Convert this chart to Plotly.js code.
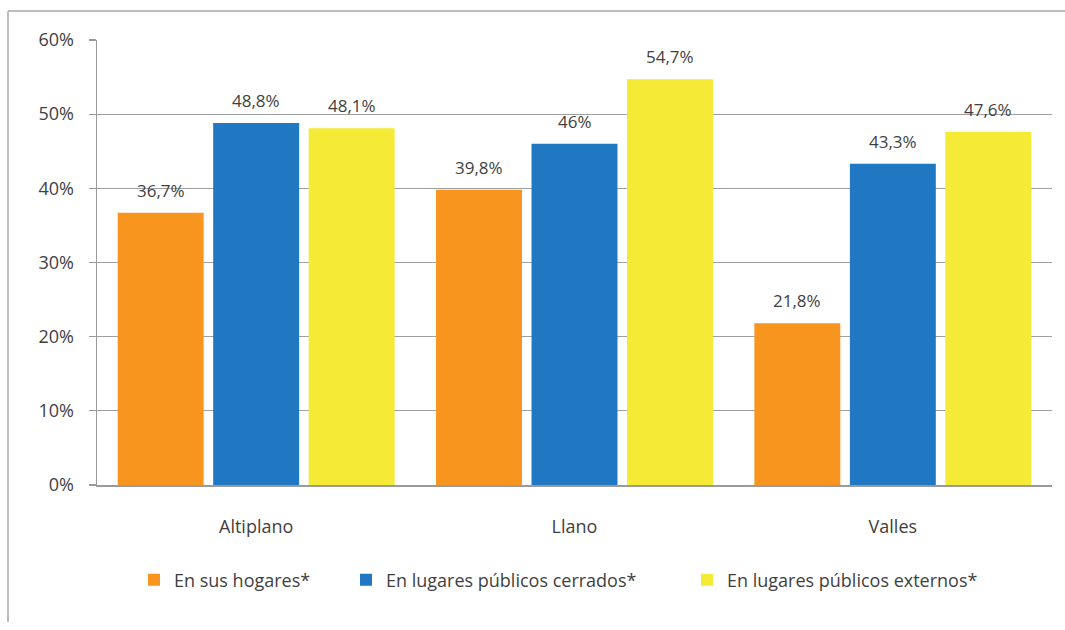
<!DOCTYPE html>
<html>
<head>
<meta charset="utf-8">
<script src="https://cdn.plot.ly/plotly-3.0.1.min.js"></script>
<style>html,body{margin:0;padding:0;background:#fff;}#chart{width:1065px;height:630px;}</style>
</head>
<body>
<div id="chart"></div>
<script>
const categories = ["Altiplano", "Llano", "Valles"];
const seriesNames = ["En sus hogares*", "En lugares públicos cerrados*", "En lugares públicos externos*"];
const hogares = [36.7, 39.8, 21.8];
const cerrados = [48.8, 46, 43.3];
const externos = [48.1, 54.7, 47.6];
const colors = ["#F7951F", "#1F78C1", "#F5EA36"];
const yTicks = [0, 10, 20, 30, 40, 50, 60];

const fmt = v => String(v).replace('.', ',') + '%';
const FAM = "Open Sans, sans-serif";
const axFont = {family: FAM, size: 18, color: "#3f3f3f"};
const lblFont = {family: FAM, size: 17, color: "#3f3f3f"};

const W = 1065, H = 630, L = 97, R = 13, T = 40, B = 145;
const pw = W - L - R, ph = H - T - B;
const px = x => (x - L) / pw;
const py = y => (H - B - y) / ph;
const BARGAP = 0.1, GROUPGAP = 0.1;
const slotPx = pw / categories.length * (1 - BARGAP) / 3;

const all = [hogares, cerrados, externos];
const legendIds = ['legend', 'legend2', 'legend3'];
const traces = all.map((vals, i) => ({
  type: 'bar',
  name: seriesNames[i],
  x: categories,
  y: vals,
  marker: {color: colors[i]},
  legend: legendIds[i],
  hoverinfo: 'skip'
}));

const annotations = [];
all.forEach((vals, i) => vals.forEach((v, j) => annotations.push({
  x: categories[j], y: v, xref: 'x', yref: 'y',
  text: fmt(v), showarrow: false, yanchor: 'bottom',
  xshift: (i - 1) * slotPx, yshift: 9, font: lblFont
})));

const legendText = [176, 388, 729];
const legendBase = {orientation: 'h', xanchor: 'left', y: py(580), yanchor: 'middle',
                    font: axFont, itemclick: false, bgcolor: 'rgba(0,0,0,0)'};
const legends = {};
legendIds.forEach((id, i) => { legends[id] = Object.assign({}, legendBase, {x: px(legendText[i] - 42)}); });

const layout = Object.assign({
  width: W, height: H,
  margin: {l: L, r: R, t: T, b: B, pad: 0},
  paper_bgcolor: '#fff', plot_bgcolor: '#fff',
  barmode: 'group', bargap: BARGAP, bargroupgap: GROUPGAP,
  font: axFont,
  showlegend: true,
  xaxis: {type: 'category', showline: true, linecolor: '#9a9a9a', linewidth: 1.5,
          ticks: '', tickfont: axFont, ticklabelstandoff: 25, fixedrange: true},
  yaxis: {range: [0, 60], tickvals: yTicks, ticktext: yTicks.map(v => v + '%'),
          showgrid: true, gridcolor: '#a0a0a0', gridwidth: 1.2,
          showline: true, linecolor: '#9a9a9a', linewidth: 1.5,
          ticks: 'outside', ticklen: 7, tickcolor: '#9a9a9a', tickwidth: 1.2,
          ticklabelstandoff: 11, tickfont: axFont, zeroline: false, fixedrange: true},
  annotations: annotations,
  shapes: [
    {type: 'line', xref: 'paper', yref: 'paper', x0: px(8), x1: px(8), y0: py(11), y1: py(622),
     line: {color: '#bdbdbd', width: 2}},
    {type: 'line', xref: 'paper', yref: 'paper', x0: px(8), x1: px(1066), y0: py(11), y1: py(11),
     line: {color: '#bdbdbd', width: 2}}
  ]
}, legends);

Plotly.newPlot('chart', traces, layout, {displayModeBar: false, staticPlot: true});
</script>
</body>
</html>
